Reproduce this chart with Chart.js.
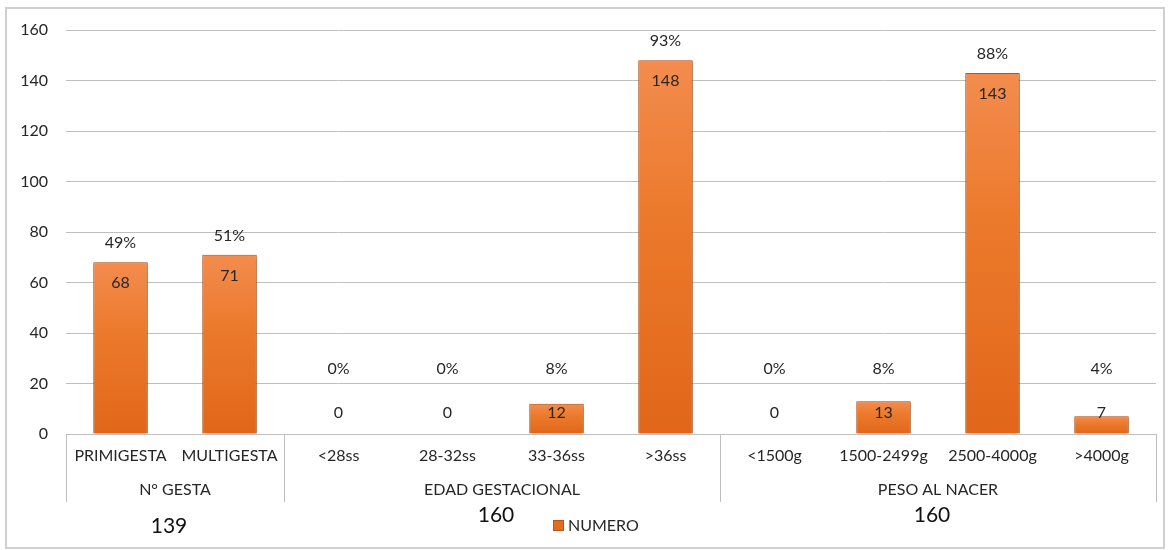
<!DOCTYPE html>
<html>
<head>
<meta charset="utf-8">
<script src="https://cdn.jsdelivr.net/npm/chart.js@4"></script>
<style>
  html, body { margin: 0; padding: 0; background: #fff; }
  #wrap { position: relative; width: 1169px; height: 550px; }
</style>
</head>
<body>
<div id="wrap"><canvas id="chart"></canvas></div>
<script>
const categorias = ["PRIMIGESTA", "MULTIGESTA", "<28ss", "28-32ss", "33-36ss", ">36ss", "<1500g", "1500-2499g", "2500-4000g", ">4000g"];
const numero = [68, 71, 0, 0, 12, 148, 0, 13, 143, 7];
const porcentajes = ["49%", "51%", "0%", "0%", "8%", "93%", "0%", "8%", "88%", "4%"];
const grupos = ["N° GESTA", "EDAD GESTACIONAL", "PESO AL NACER"];
const grupoDesde = [0, 2, 6];
const grupoHasta = [1, 5, 9];
const totales = [139, 160, 160];

const FONT = "Lato, 'Open Sans', sans-serif";
const TXT = "#262626";
const LINEA = "#bfbfbf";

// orange bar fill, lighter at the top of each bar
function relleno(ctx) {
  const c = ctx.chart, a = c.chartArea;
  if (!a || ctx.parsed == null) return "#E8711F";
  const y = c.scales.y;
  const top = y.getPixelForValue(ctx.parsed.y), base = y.getPixelForValue(0);
  if (base - top < 1) return "#E8711F";
  const g = c.ctx.createLinearGradient(0, top, 0, base);
  g.addColorStop(0, "#F38C4E");
  g.addColorStop(0.4, "#EC7A2C");
  g.addColorStop(1, "#E1661A");
  return g;
}

const extras = {
  id: "extras",
  beforeDraw(chart) {
    const ctx = chart.ctx;
    ctx.save();
    ctx.strokeStyle = "#d0d0d0"; ctx.lineWidth = 2;
    ctx.strokeRect(6, 8, 1158, 540);
    ctx.restore();
  },
  beforeDatasetsDraw(chart) {
    const ctx = chart.ctx;
    ctx.save();
    ctx.shadowColor = "rgba(0,0,0,0.35)";
    ctx.shadowBlur = 4; ctx.shadowOffsetX = 1; ctx.shadowOffsetY = 1;
  },
  afterDatasetsDraw(chart) {
    const ctx = chart.ctx;
    ctx.restore();
    const y = chart.scales.y, zero = y.getPixelForValue(0);
    const bars = chart.getDatasetMeta(0).data;
    ctx.save();
    ctx.font = "16px " + FONT; ctx.fillStyle = TXT;
    ctx.textAlign = "center"; ctx.textBaseline = "middle";
    bars.forEach((b, i) => {
      const top = y.getPixelForValue(numero[i]);
      ctx.fillText(String(numero[i]), b.x, Math.min(top + 21, zero - 21));
      ctx.fillText(porcentajes[i], b.x, Math.min(top - 19, zero - 65));
    });
    ctx.restore();
  },
  afterDraw(chart) {
    const ctx = chart.ctx, x = chart.scales.x, a = chart.chartArea;
    const half = (x.getPixelForValue(1) - x.getPixelForValue(0)) / 2;
    ctx.save();
    // group separators under the category axis
    ctx.strokeStyle = LINEA; ctx.lineWidth = 1;
    const cortes = [x.getPixelForValue(0) - half];
    grupoHasta.forEach(h => cortes.push(x.getPixelForValue(h) + half));
    cortes.forEach(px => {
      ctx.beginPath(); ctx.moveTo(Math.round(px) + 0.5, a.bottom); ctx.lineTo(Math.round(px) + 0.5, 502); ctx.stroke();
    });
    ctx.font = "16px " + FONT; ctx.fillStyle = TXT;
    ctx.textAlign = "center"; ctx.textBaseline = "middle";
    grupos.forEach((g, i) => {
      const cx = (x.getPixelForValue(grupoDesde[i]) + x.getPixelForValue(grupoHasta[i])) / 2;
      ctx.fillText(g, cx, 490);
    });
    // totals per group
    ctx.font = "21px " + FONT; ctx.fillStyle = "#111";
    totales.forEach((t, i) => {
      const cx = (x.getPixelForValue(grupoDesde[i]) + x.getPixelForValue(grupoHasta[i])) / 2;
      ctx.fillText(String(t), cx - 6, i === 0 ? 526 : 515);
    });
    // legend
    ctx.fillStyle = "#E46C1E"; ctx.fillRect(553, 520, 11, 11);
    ctx.strokeStyle = "#B8541A"; ctx.strokeRect(553.5, 520.5, 10, 10);
    ctx.font = "16px " + FONT; ctx.fillStyle = TXT; ctx.textAlign = "left";
    ctx.fillText(chart.data.datasets[0].label, 568, 526);
    ctx.restore();
  }
};

new Chart(document.getElementById("chart"), {
  type: "bar",
  data: {
    labels: categorias,
    datasets: [{
      label: "NUMERO",
      data: numero,
      backgroundColor: relleno,
      borderColor: "#C95A14",
      borderWidth: 1,
      categoryPercentage: 1,
      barPercentage: 0.5
    }]
  },
  options: {
    responsive: true, maintainAspectRatio: false, animation: false,
    layout: { padding: { top: 30, right: 13, left: 0, bottom: 0 } },
    plugins: { legend: { display: false }, tooltip: { enabled: false } },
    scales: {
      x: {
        grid: { display: false, drawTicks: false },
        border: { display: true, color: LINEA },
        ticks: { font: { family: FONT, size: 16 }, color: TXT, padding: 12, maxRotation: 0, autoSkip: false },
        afterFit: s => { s.height = 116; }
      },
      y: {
        min: 0, max: 160,
        grid: { color: LINEA, drawTicks: false },
        border: { display: false },
        ticks: { stepSize: 20, font: { family: FONT, size: 16 }, color: TXT, padding: 18 },
        afterFit: s => { s.width = 66; }
      }
    }
  },
  plugins: [extras]
});
</script>
</body>
</html>
